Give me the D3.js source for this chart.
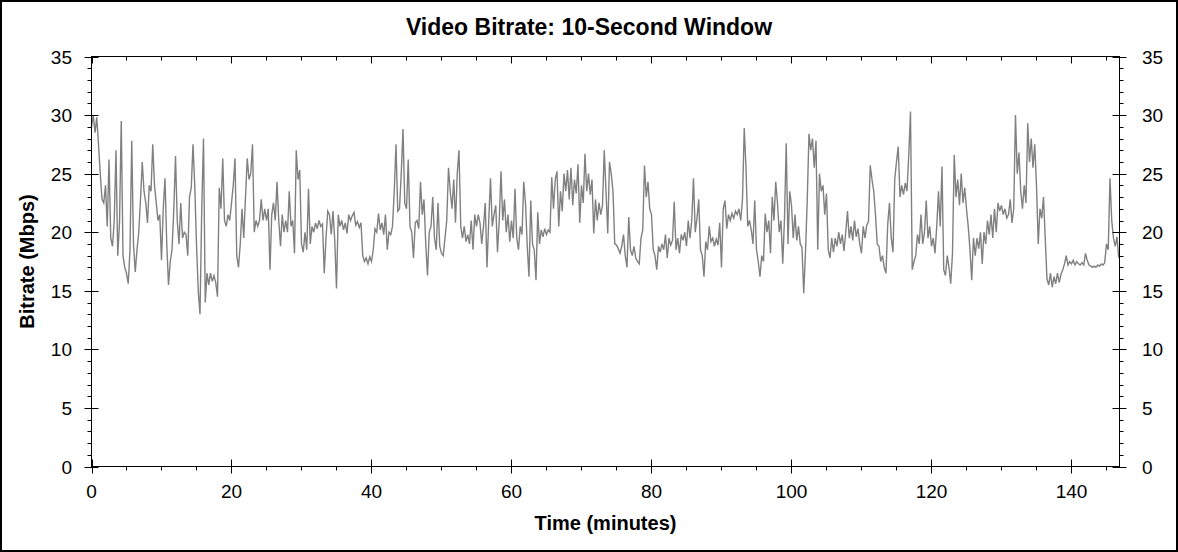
<!DOCTYPE html>
<html>
<head>
<meta charset="utf-8">
<script src="https://cdn.jsdelivr.net/npm/d3@7"></script>
<style>
  html, body { margin: 0; padding: 0; background: #fff; }
  svg { display: block; font-family: "Liberation Sans", Arial, sans-serif; }
</style>
</head>
<body>
<svg id="chart" width="1178" height="552"></svg>
<script>
// ---- data ----
const title = "Video Bitrate: 10-Second Window";
const xLabel = "Time (minutes)";
const yLabel = "Bitrate (Mbps)";
const xTicks = [0, 20, 40, 60, 80, 100, 120, 140];
const yTicks = [0, 5, 10, 15, 20, 25, 30, 35];
const xMax = 146.86;
const yMax = 35;
const sampleStep = 0.25; // minutes between samples
// bitrate (Mbps), one value per 0.25 minute starting at t = 0
const bitrate = [
  29.0,30.0,28.5,29.8,27.5,25.0,22.8,22.5,24.0,20.5,26.2,19.5,18.8,21.0,27.0,18.0,20.8,29.5,18.0,17.0,
  16.5,15.6,18.5,27.8,19.0,16.6,18.5,20.0,22.8,26.0,23.5,22.5,20.8,24.0,23.5,27.5,24.0,22.5,21.0,21.5,
  17.6,22.0,24.6,19.0,15.5,17.5,18.5,21.8,26.5,21.0,19.0,22.5,19.5,20.0,19.8,18.0,23.0,23.8,27.5,24.0,
  19.0,15.0,13.0,22.0,28.0,14.0,16.5,15.5,16.5,15.8,16.3,15.7,14.5,23.8,22.0,26.3,21.0,20.5,21.5,21.0,
  22.5,24.0,26.3,18.0,17.0,19.0,22.0,19.5,23.0,26.3,24.5,25.0,27.5,20.0,21.0,20.5,21.0,22.8,21.0,22.0,
  21.0,22.0,16.8,21.5,22.5,21.0,24.3,21.0,18.8,21.5,20.0,21.0,20.0,23.5,20.5,21.0,18.2,27.0,
  24.5,25.3,19.0,18.3,20.0,18.5,23.7,19.0,20.5,20.0,20.8,20.3,21.0,20.5,20.7,16.5,19.5,21.8,21.5,19.8,
  21.8,19.3,15.2,21.5,20.5,21.0,20.2,20.8,19.9,21.5,21.0,21.4,21.7,20.6,20.9,20.4,20.8,18.0,17.5,17.8,
  17.3,17.9,17.5,18.5,20.3,20.0,21.6,20.2,20.8,19.8,21.5,18.5,20.0,19.8,20.5,23.5,27.5,21.8,22.0,25.0,
  28.8,22.5,22.0,26.2,20.5,20.0,17.8,20.8,21.0,20.3,24.3,21.5,22.8,19.0,16.3,20.0,20.5,23.0,19.5,18.5,
  22.5,18.8,18.2,18.0,19.5,21.0,25.5,23.5,22.0,24.5,20.8,25.0,27.0,20.5,19.5,20.5,19.2,19.8,19.0,21.0,
  18.5,21.5,20.5,21.5,20.8,19.0,20.5,22.5,17.0,21.0,24.6,20.5,21.5,22.3,18.3,21.0,25.2,21.0,
  22.8,20.0,21.5,19.2,21.0,19.5,23.7,19.5,18.5,20.5,19.8,24.3,22.5,18.8,16.2,22.7,19.0,18.5,15.9,21.7,
  19.0,20.2,19.6,20.3,19.8,20.2,20.0,24.7,22.0,24.5,25.2,20.5,23.5,21.8,25.0,23.5,25.3,22.8,25.5,22.3,
  24.5,23.3,25.8,20.8,24.0,22.5,26.7,23.5,25.0,23.2,24.5,19.9,22.8,21.0,22.5,21.5,22.3,27.0,23.5,19.9,
  26.0,25.0,23.5,19.0,18.9,18.6,18.2,18.8,19.8,18.0,17.0,21.3,18.5,18.0,18.8,17.8,17.5,17.3,19.5,20.2,
  25.7,23.0,24.3,22.0,21.5,18.5,18.0,16.8,18.8,18.3,19.0,18.5,19.8,17.8,19.5,18.9,19.3,22.6,18.5,19.5,
  18.2,19.8,19.3,20.0,18.8,21.0,19.5,21.0,24.6,20.0,21.2,22.8,18.5,18.0,16.2,19.2,18.5,
  20.5,19.2,19.5,18.8,19.4,18.9,20.8,17.0,22.0,22.7,20.3,21.5,21.0,21.6,21.2,21.8,21.5,22.0,21.0,22.8,
  28.9,25.5,20.5,21.0,20.2,19.0,22.7,18.5,17.5,16.2,18.0,17.5,21.6,20.0,21.0,18.2,23.0,21.0,24.3,22.5,
  20.0,21.0,17.3,21.2,27.6,19.0,23.5,22.3,19.5,21.5,19.3,20.5,19.0,18.7,14.8,18.3,22.7,28.4,27.0,28.0,
  25.5,27.8,18.5,25.0,23.5,24.0,21.5,23.3,18.5,17.8,19.5,18.3,19.5,18.8,20.0,19.0,19.8,18.4,20.0,21.8,
  19.5,20.5,19.3,21.0,19.6,20.3,19.0,18.2,20.5,19.5,20.6,20.9,25.7,24.5,23.5,21.5,19.0,18.8,17.5,18.0,
  17.0,16.5,20.7,22.5,19.5,18.3,24.5,26.0,27.3,23.0,24.0,23.2,24.2,23.5,26.5,30.3,16.8,17.5,
  18.0,19.8,19.0,21.5,19.0,20.0,22.7,19.5,20.5,18.8,19.5,18.2,20.5,23.5,20.5,25.6,16.8,16.3,18.0,17.0,
  15.6,18.2,26.6,23.0,24.5,22.3,25.0,22.5,23.8,22.0,20.5,18.5,15.9,19.5,18.0,19.5,18.6,20.0,17.3,20.0,
  19.0,21.0,19.8,21.5,19.5,22.0,20.0,22.5,21.8,22.3,21.5,22.0,21.2,21.5,22.8,20.8,22.0,30.0,25.0,26.8,
  23.5,22.0,24.0,22.5,29.3,26.0,28.0,25.5,27.5,24.0,19.0,22.0,21.2,23.0,19.5,16.0,15.5,16.5,15.3,16.2,
  15.6,16.5,15.7,16.4,16.8,17.3,18.0,17.2,17.5,17.3,17.6,17.2,17.5,17.3,17.2,17.4,17.2,18.2,17.6,17.2,
  17.1,17.0,17.1,17.0,17.2,17.1,17.3,17.2,17.4,19.0,18.5,24.6,21.0,19.5,18.8,19.6,17.8
];
const times = bitrate.map((_, i) => i * sampleStep);

// ---- layout ----
const W = 1178, H = 552;
const pL = 91.5, pR = 1119.5, pT = 56.5, pB = 466.5;
const svg = d3.select("#chart");

svg.append("rect").attr("x", 1).attr("y", 1).attr("width", W - 2).attr("height", H - 2)
  .attr("fill", "#fff").attr("stroke", "#000").attr("stroke-width", 2);

const x = d3.scaleLinear().domain([0, xMax]).range([pL, pR]);
const y = d3.scaleLinear().domain([0, yMax]).range([pB, pT]);

// data line
const line = d3.line().x((d, i) => x(times[i])).y(d => y(d));
svg.append("path").datum(bitrate)
  .attr("d", line).attr("fill", "none")
  .attr("stroke", "#808080").attr("stroke-width", 1.4)
  .attr("stroke-linejoin", "miter");

// frame
svg.append("rect").attr("x", pL).attr("y", pT).attr("width", pR - pL).attr("height", pB - pT)
  .attr("fill", "none").attr("stroke", "#000").attr("stroke-width", 1);

const tickG = svg.append("g").attr("stroke", "#000").attr("stroke-width", 1);
const xMinor = d3.range(0, xMax, 5);
const yMinor = d3.range(0, yMax + 0.001, 1);
xMinor.forEach(v => {
  const px = Math.round(x(v)) + 0.5;
  tickG.append("line").attr("x1", px).attr("x2", px).attr("y1", pB).attr("y2", pB + 4);
  tickG.append("line").attr("x1", px).attr("x2", px).attr("y1", pT).attr("y2", pT + 4);
});
xTicks.forEach(v => {
  const px = Math.round(x(v)) + 0.5;
  tickG.append("line").attr("x1", px).attr("x2", px).attr("y1", pB - 7).attr("y2", pB + 7);
  tickG.append("line").attr("x1", px).attr("x2", px).attr("y1", pT).attr("y2", pT + 7);
});
yMinor.forEach(v => {
  const py = Math.round(y(v)) + 0.5;
  tickG.append("line").attr("x1", pL - 4).attr("x2", pL).attr("y1", py).attr("y2", py);
  tickG.append("line").attr("x1", pR).attr("x2", pR + 4).attr("y1", py).attr("y2", py);
});
yTicks.forEach(v => {
  const py = Math.round(y(v)) + 0.5;
  tickG.append("line").attr("x1", pL - 7).attr("x2", pL + 7).attr("y1", py).attr("y2", py);
  tickG.append("line").attr("x1", pR - 7).attr("x2", pR + 7).attr("y1", py).attr("y2", py);
});

// tick labels
const lab = svg.append("g").attr("font-size", 19).attr("fill", "#000");
xTicks.forEach(v => {
  lab.append("text").attr("x", x(v)).attr("y", 497.5).attr("text-anchor", "middle").text(v);
});
yTicks.forEach(v => {
  lab.append("text").attr("x", 72).attr("y", y(v) + 7).attr("text-anchor", "end").text(v);
  lab.append("text").attr("x", 1142).attr("y", y(v) + 7).attr("text-anchor", "start").text(v);
});

// titles
svg.append("text").attr("x", W / 2).attr("y", 35).attr("text-anchor", "middle")
  .attr("font-size", 23).attr("font-weight", "bold").text(title);
svg.append("text").attr("x", (pL + pR) / 2).attr("y", 530).attr("text-anchor", "middle")
  .attr("font-size", 20).attr("font-weight", "bold").text(xLabel);
svg.append("text").attr("transform", `translate(34,${(pT + pB) / 2}) rotate(-90)`)
  .attr("text-anchor", "middle").attr("font-size", 20).attr("font-weight", "bold").text(yLabel);
</script>
</body>
</html>
